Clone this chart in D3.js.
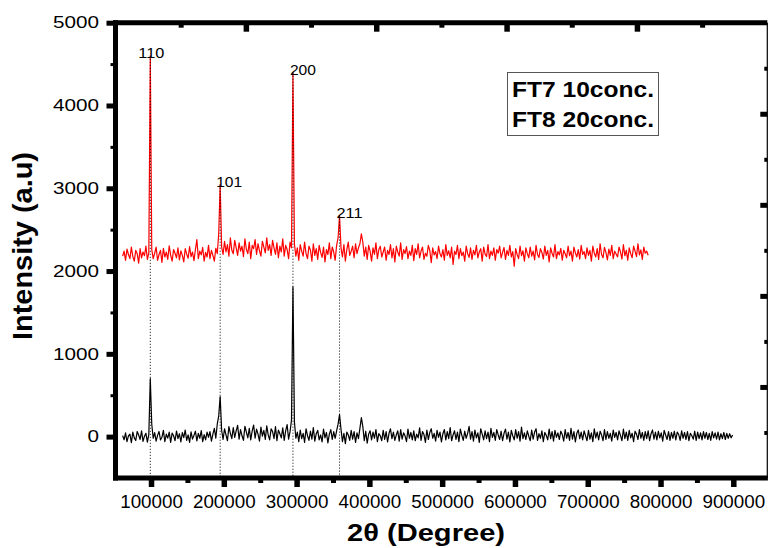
<!DOCTYPE html>
<html><head><meta charset="utf-8">
<script src="https://cdn.jsdelivr.net/npm/d3@7"></script>
<style>
body{margin:0;background:#fff}
svg{display:block}
text{font-family:"Liberation Sans",Arial,Helvetica,sans-serif;fill:#000}
</style></head>
<body><svg id="c" width="768" height="548"></svg>
<script>
// ---- data ----
const xStart = 61000, xStep = 2000;
const blackValues = [
12,-38,45,-60,8,30,-72,55,-15,-48,62,20,-35,70,-58,5,40,-66,28,700,
150,-20,48,-55,15,62,-40,-8,75,-62,30,-18,55,-70,42,10,-50,68,-25,35,
-65,50,-12,80,-45,22,-70,58,-30,15,65,-52,38,-20,72,-60,25,-40,55,-8,
60,-55,30,100,-20,150,250,483,80,-35,95,20,-50,120,40,-25,110,-10,70,135,
-30,85,10,-45,125,55,-15,100,-40,70,140,-20,90,30,-55,115,5,75,-35,130,
20,-40,95,60,-25,120,-50,80,35,-15,105,-45,70,145,-30,60,200,1810,180,-20,
55,-60,80,-25,40,-70,95,10,-45,65,-30,110,-55,35,75,-40,20,-65,90,-15,
50,-75,30,85,-35,60,-20,70,150,265,90,-60,40,-85,55,20,-45,75,-30,60,
-70,45,-25,100,230,120,-50,65,-80,30,70,-40,55,-20,85,-60,35,10,-50,75,
-35,60,-65,40,95,-25,55,-45,20,70,-55,85,-30,45,10,-60,90,-20,50,-40,
70,-50,30,-15,105,-45,60,25,-70,80,-35,50,95,-20,40,-55,75,-10,55,-65,
35,85,-40,60,-25,110,-50,20,70,-35,55,-60,90,15,-45,65,-20,40,125,-30,
60,-55,80,-15,45,-70,95,30,-40,70,-25,55,-60,100,-10,50,-45,85,20,-35,
65,-50,40,90,-30,55,-65,75,10,-40,85,-20,60,-55,115,-25,45,-35,70,5,
-50,80,-30,55,95,-45,35,-20,70,-60,50,15,-40,90,-25,60,-55,75,-10,45,
-35,65,25,-55,85,-20,50,-45,100,-30,60,-65,40,80,-25,55,-40,70,10,-50,
75,-30,45,-60,95,-15,55,-40,65,20,-50,85,-35,60,-20,40,-55,80,-10,50,
-40,70,15,-50,90,-25,55,-45,75,-15,40,-60,65,30,-35,85,-20,50,-45,60,
-25,70,-50,35,80,-30,55,-40,65,-15,45,-55,75,20,-35,60,-45,50,-20,65,
-40,55,25,-45,70,-20,50,-35,60,-50,40,10,-30,65,-45,55,-25,45,-40,60,
-20,50,-35,40,-45,60,-15,45,-30,55,-40,35,-25,50,-35,40,-20,35,-15,20
];
const redValues = [
2180,2240,2130,2265,2200,2150,2290,2175,2120,2250,2210,2095,2270,2160,2230,2185,2300,2140,2220,4600,
2260,2150,2215,2290,2130,2200,2250,2105,2275,2170,2230,2140,2305,2190,2120,2260,2215,2160,2280,2135,
2245,2190,2110,2270,2205,2155,2295,2175,2230,2125,2260,2380,2150,2240,2195,2285,2120,2225,2170,2310,
2150,2250,2190,2120,2275,2210,2450,3043,2290,2200,2360,2230,2320,2180,2400,2250,2210,2370,2280,2190,
2340,2240,2300,2175,2390,2260,2210,2350,2150,2310,2270,2380,2200,2330,2245,2180,2360,2290,2220,2400,
2250,2320,2190,2370,2280,2200,2340,2160,2300,2230,2390,2180,2310,2260,2150,2350,2280,4396,2330,2180,
2280,2130,2320,2240,2180,2350,2210,2150,2300,2255,2120,2330,2190,2270,2140,2310,2225,2165,2290,2110,
2260,2200,2340,2150,2290,2230,2130,2310,2400,2670,2280,2170,2320,2120,2260,2350,2190,2240,2300,2160,
2330,2210,2280,2330,2450,2350,2180,2290,2140,2310,2240,2120,2280,2200,2340,2150,2260,2300,2170,2230,
2290,2130,2250,2200,2320,2160,2270,2110,2300,2230,2180,2340,2140,2260,2210,2295,2150,2240,2190,2310,
2125,2270,2200,2330,2160,2240,2290,2140,2215,2180,2310,2250,2100,2280,2195,2235,2150,2300,2210,2170,
2260,2130,2320,2190,2245,2160,2290,2080,2240,2200,2310,2150,2270,2185,2230,2120,2300,2210,2165,2280,
2140,2250,2195,2310,2160,2230,2270,2120,2290,2205,2175,2320,2150,2240,2190,2280,2130,2260,2215,2300,
2160,2225,2285,2140,2250,2190,2310,2170,2235,2060,2270,2200,2150,2300,2185,2245,2120,2280,2210,2160,
2290,2180,2240,2135,2310,2200,2165,2270,2225,2145,2300,2190,2250,2110,2280,2215,2170,2320,2150,2235,
2195,2275,2130,2250,2210,2160,2300,2185,2240,2120,2290,2220,2170,2260,2145,2310,2200,2235,2150,2280,
2190,2250,2120,2300,2215,2170,2270,2140,2330,2200,2160,2285,2225,2135,2265,2190,2310,2150,2240,2205,
2170,2290,2230,2145,2320,2185,2250,2130,2280,2210,2160,2300,2240,2175,2330,2195,2255,2140,2290,2215,
2240,2190
];
const peakPositions = [99000, 195000, 295000, 359000];
const peakLabels = ["110", "101", "200", "211"];
const redPeakHeights = [4600, 3043, 4396, 2670];
const xTicks = [100000,200000,300000,400000,500000,600000,700000,800000,900000];
const xMinorTicks = [150000,250000,350000,450000,550000,650000,750000,850000];
const yTicks = [0,1000,2000,3000,4000,5000];
const yMinorTicks = [500,1500,2500,3500,4500];
const legendLines = ["FT7 10conc.", "FT8 20conc."];
const xTitle = "2θ (Degree)";
const yTitle = "Intensity (a.u)";

// ---- scales ----
const svg = d3.select("#c");
const x = d3.scaleLinear().domain([51200, 946700]).range([115.5, 767.3]);
const y = d3.scaleLinear().domain([-500, 5000]).range([478, 22.7]);
// secondary (unlabelled) top/right axes of the overlay layer
const x2 = d3.scaleLinear().domain([0, 5]).range([115.5, 767.3]);
const y2 = d3.scaleLinear().domain([0, 5]).range([478, 22.7]);

const toPts = vals => vals.map((v, i) => [xStart + i * xStep, v]);
const line = d3.line().x(d => x(d[0])).y(d => y(d[1]));

svg.append("path").datum(toPts(redValues)).attr("d", line)
  .attr("fill", "none").attr("stroke", "#ff0000").attr("stroke-width", 1.2).attr("stroke-linejoin", "round");
svg.append("path").datum(toPts(blackValues)).attr("d", line)
  .attr("fill", "none").attr("stroke", "#000").attr("stroke-width", 1.2).attr("stroke-linejoin", "round");

// dotted guide lines
peakPositions.forEach((p, i) => {
  svg.append("line")
    .attr("x1", x(p)).attr("x2", x(p))
    .attr("y1", y(redPeakHeights[i])).attr("y2", y.range()[0])
    .attr("stroke", "#000").attr("stroke-width", 1).attr("stroke-dasharray", "1,2");
});
const labelDx = [-12, -4, -3, -3];
peakPositions.forEach((p, i) => {
  svg.append("text").attr("x", x(p) + labelDx[i]).attr("y", y(redPeakHeights[i]) + 2)
    .attr("font-size", 14).attr("textLength", 26).attr("lengthAdjust", "spacingAndGlyphs")
    .text(peakLabels[i]);
});

// ---- axes ----
function styleAxis(g, w) {
  g.select(".domain").remove();
  g.selectAll(".tick line").attr("stroke", "#000").attr("stroke-width", w);
}
// bottom
svg.append("g").attr("transform", "translate(0,478)")
  .call(d3.axisBottom(x).tickValues(xMinorTicks).tickSize(5).tickFormat(""))
  .call(g => styleAxis(g, 5));
const gb = svg.append("g").attr("transform", "translate(0,478)")
  .call(d3.axisBottom(x).tickValues(xTicks).tickSize(9).tickPadding(8).tickFormat(d3.format("d")))
  .call(g => styleAxis(g, 5.5));
gb.selectAll(".tick text").attr("font-size", 18.8).attr("fill", "#000").attr("font-family", "Liberation Sans, Arial, sans-serif");

// left
svg.append("g").attr("transform", "translate(115.5,0)")
  .call(d3.axisLeft(y).tickValues(yMinorTicks).tickSize(5).tickFormat(""))
  .call(g => styleAxis(g, 3));
const gl = svg.append("g").attr("transform", "translate(115.5,0)")
  .call(d3.axisLeft(y).tickValues(yTicks).tickSize(9).tickPadding(7.5).tickFormat(d3.format("d")))
  .call(g => styleAxis(g, 5));
gl.selectAll(".tick text").attr("font-size", 16.5).attr("fill", "#000")
  .attr("font-family", "Liberation Sans, Arial, sans-serif")
  .attr("textLength", d => String(d).length * 11.5).attr("lengthAdjust", "spacingAndGlyphs");

// top (inward ticks)
svg.append("g").attr("transform", "translate(0,22.7)")
  .call(d3.axisTop(x2).tickValues([0.5,1.5,2.5,3.5,4.5]).tickSize(-5).tickFormat(""))
  .call(g => styleAxis(g, 5));
svg.append("g").attr("transform", "translate(0,22.7)")
  .call(d3.axisTop(x2).tickValues([1,2,3,4]).tickSize(-9).tickFormat(""))
  .call(g => styleAxis(g, 5.5));
// right (inward ticks)
svg.append("g").attr("transform", "translate(767.3,0)")
  .call(d3.axisRight(y2).tickValues([0.5,1.5,2.5,3.5,4.5]).tickSize(-3).tickFormat(""))
  .call(g => styleAxis(g, 4));
svg.append("g").attr("transform", "translate(767.3,0)")
  .call(d3.axisRight(y2).tickValues([1,2,3,4]).tickSize(-7).tickFormat(""))
  .call(g => styleAxis(g, 5));

// frame
const [xl, xr] = x.range(), [yb, yt] = y.range();
svg.append("line").attr("x1", xr).attr("x2", xr).attr("y1", yt).attr("y2", yb).attr("stroke", "#000").attr("stroke-width", 1.2);
svg.append("line").attr("x1", xl - 2.5).attr("x2", xr).attr("y1", yt).attr("y2", yt).attr("stroke", "#000").attr("stroke-width", 5);
svg.append("line").attr("x1", xl - 2.5).attr("x2", xr + 0.6).attr("y1", yb).attr("y2", yb).attr("stroke", "#000").attr("stroke-width", 5);
svg.append("line").attr("x1", xl).attr("x2", xl).attr("y1", yt - 2.5).attr("y2", yb + 2.5).attr("stroke", "#000").attr("stroke-width", 5);

// legend
const lg = svg.append("g");
lg.append("rect").attr("x", 507.5).attr("y", 72.5).attr("width", 151).attr("height", 63)
  .attr("fill", "#fff").attr("stroke", "#555").attr("stroke-width", 1);
legendLines.forEach((t, i) => {
  lg.append("text").attr("x", 512).attr("y", 97 + i * 30)
    .attr("font-size", 22).attr("font-weight", "bold")
    .attr("textLength", 142).attr("lengthAdjust", "spacingAndGlyphs").text(t);
});

// titles
svg.append("text").attr("x", 426).attr("y", 541).attr("text-anchor", "middle")
  .attr("font-size", 23).attr("font-weight", "bold")
  .attr("textLength", 158).attr("lengthAdjust", "spacingAndGlyphs").text(xTitle);
svg.append("text").attr("transform", "translate(32,246) rotate(-90)").attr("text-anchor", "middle")
  .attr("font-size", 27).attr("font-weight", "bold")
  .attr("textLength", 188).attr("lengthAdjust", "spacingAndGlyphs").text(yTitle);
</script></body></html>
